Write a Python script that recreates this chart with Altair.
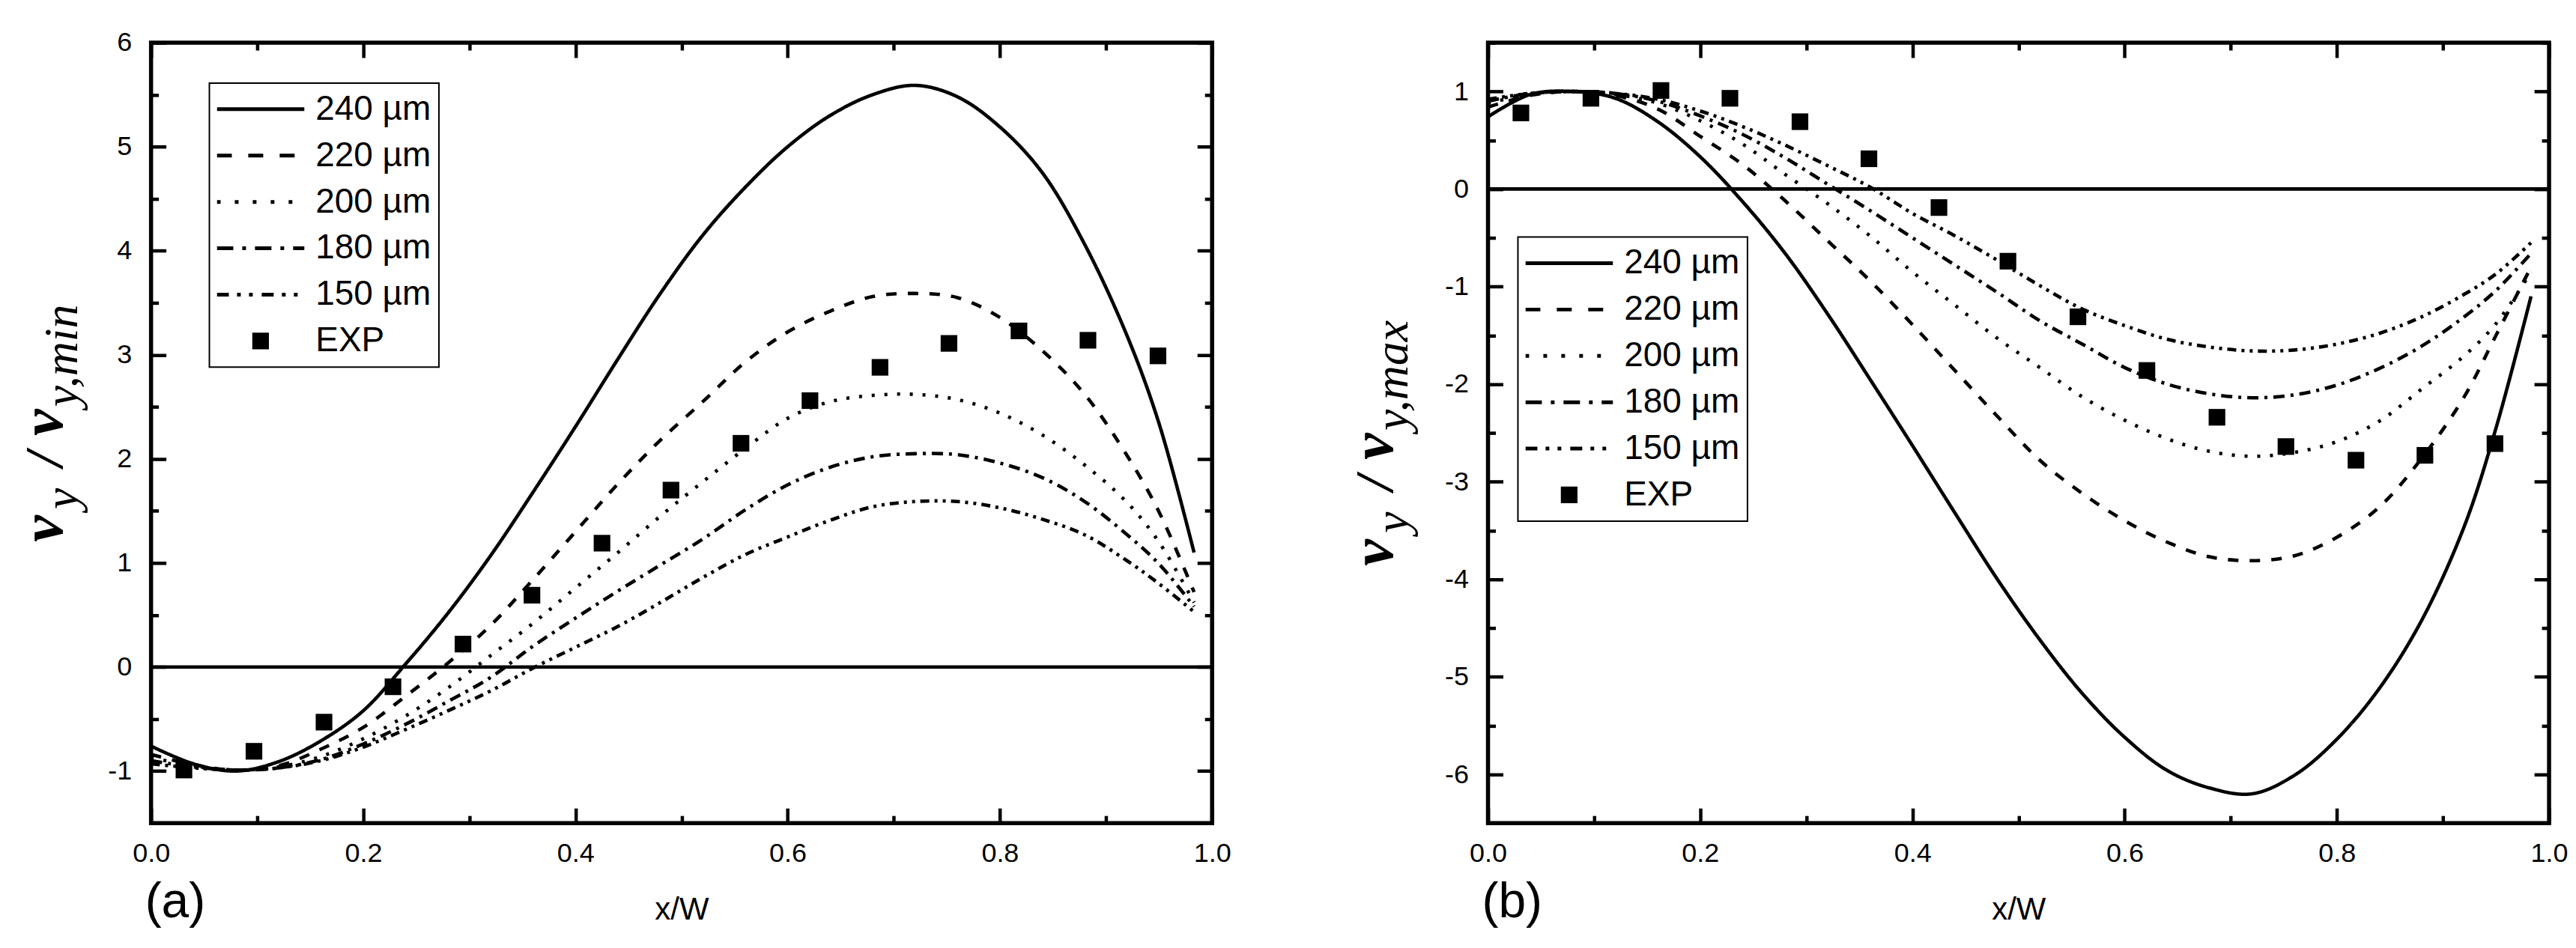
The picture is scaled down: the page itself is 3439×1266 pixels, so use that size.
import altair as alt
import pandas as pd

# ---------------- data ----------------
SERIES = ["240 µm", "220 µm", "200 µm", "180 µm", "150 µm", "EXP"]

X_GRID = [0.0, 0.04, 0.08, 0.12, 0.16, 0.20, 0.24, 0.28, 0.32, 0.36, 0.40, 0.44, 0.48,
          0.52, 0.56, 0.60, 0.64, 0.68, 0.72, 0.76, 0.80, 0.84, 0.88, 0.92, 0.95, 0.983]

# panel (a): v_y / v_y,min
A_240 = [-0.76, -0.93, -1.00, -0.91, -0.71, -0.42, 0.03, 0.52, 1.07, 1.68, 2.31, 2.96, 3.59,
         4.15, 4.61, 5.00, 5.30, 5.50, 5.59, 5.48, 5.19, 4.75, 4.06, 3.18, 2.34, 1.10]
A_220 = [-0.84, -0.94, -0.99, -0.95, -0.79, -0.58, -0.28, 0.04, 0.40, 0.84, 1.30, 1.76, 2.18,
         2.55, 2.93, 3.22, 3.42, 3.56, 3.59, 3.55, 3.36, 3.04, 2.62, 2.03, 1.49, 0.72]
A_200 = [-0.87, -0.95, -0.99, -0.96, -0.86, -0.69, -0.47, -0.20, 0.11, 0.42, 0.76, 1.10, 1.45,
         1.78, 2.10, 2.39, 2.55, 2.61, 2.62, 2.57, 2.44, 2.23, 1.94, 1.58, 1.20, 0.62]
A_180 = [-0.90, -0.96, -0.99, -0.97, -0.89, -0.74, -0.55, -0.33, -0.10, 0.20, 0.47, 0.73, 0.98,
         1.23, 1.51, 1.75, 1.92, 2.02, 2.05, 2.04, 1.96, 1.82, 1.59, 1.27, 0.99, 0.58]
A_150 = [-0.93, -0.97, -0.99, -0.97, -0.90, -0.77, -0.60, -0.42, -0.23, -0.01, 0.19, 0.39, 0.62,
         0.86, 1.08, 1.25, 1.41, 1.54, 1.59, 1.59, 1.53, 1.42, 1.27, 1.02, 0.80, 0.53]

# panel (b): v_y / v_y,max
B_240 = [0.74, 0.97, 1.00, 0.93, 0.69, 0.33, -0.13, -0.66, -1.28, -1.95, -2.63, -3.32, -4.00,
         -4.62, -5.17, -5.62, -5.96, -6.14, -6.20, -6.01, -5.64, -5.12, -4.42, -3.46, -2.45, -1.10]
B_220 = [0.84, 0.96, 1.00, 0.96, 0.82, 0.54, 0.25, -0.12, -0.53, -0.94, -1.39, -1.86, -2.33,
         -2.78, -3.12, -3.40, -3.62, -3.77, -3.81, -3.76, -3.57, -3.26, -2.76, -2.13, -1.50, -0.80]
B_200 = [0.88, 0.97, 1.00, 0.97, 0.88, 0.70, 0.46, 0.15, -0.15, -0.48, -0.85, -1.19, -1.53,
         -1.83, -2.13, -2.37, -2.56, -2.69, -2.74, -2.70, -2.59, -2.38, -2.05, -1.71, -1.38, -0.85]
B_180 = [0.90, 0.98, 1.00, 0.98, 0.90, 0.75, 0.56, 0.32, 0.05, -0.22, -0.50, -0.78, -1.06,
         -1.35, -1.59, -1.83, -2.00, -2.10, -2.14, -2.11, -2.01, -1.84, -1.61, -1.31, -1.04, -0.66]
B_150 = [0.92, 0.98, 1.00, 0.98, 0.92, 0.80, 0.64, 0.45, 0.24, 0.02, -0.25, -0.48, -0.73,
         -0.99, -1.23, -1.40, -1.54, -1.62, -1.66, -1.65, -1.59, -1.48, -1.31, -1.08, -0.87, -0.55]

EXP_X = [0.031, 0.097, 0.163, 0.228, 0.294, 0.359, 0.425, 0.490, 0.556, 0.621, 0.687, 0.752,
         0.818, 0.883, 0.949]
A_EXP = [-0.99, -0.81, -0.53, -0.19, 0.22, 0.69, 1.19, 1.70, 2.15, 2.56, 2.88, 3.11, 3.23, 3.14, 2.99]
B_EXP = [0.78, 0.93, 1.01, 0.93, 0.69, 0.31, -0.19, -0.74, -1.31, -1.86, -2.34, -2.64, -2.78, -2.73, -2.61]

X_MAJOR = [0.0, 0.2, 0.4, 0.6, 0.8, 1.0]
X_MINOR = [0.1, 0.3, 0.5, 0.7, 0.9]
A_Y_DOMAIN = [-1.5, 6]
A_Y_MAJOR = [-1, 0, 1, 2, 3, 4, 5, 6]
A_Y_MINOR = [-1.5, -0.5, 0.5, 1.5, 2.5, 3.5, 4.5, 5.5]
B_Y_DOMAIN = [-6.5, 1.5]
B_Y_MAJOR = [-6, -5, -4, -3, -2, -1, 0, 1]
B_Y_MINOR = [-6.5, -5.5, -4.5, -3.5, -2.5, -1.5, -0.5, 0.5, 1.5]
ZERO = [0]

# ---------------- styles ----------------
LEGEND_DASHES = [[1, 0], [20, 22], [5, 19], [22, 12, 5, 12], [16, 11, 5, 11, 5, 12]]
PLOT_DASHES = [[1, 0], [14, 15], [4, 13], [15, 8, 4, 8], [12, 7, 4, 7, 4, 7]]
FONT = "Liberation Sans, Arial, sans-serif"
SERIF = "Liberation Serif, Times New Roman, serif"
W, H = 1419, 1044
SYM_LEN = 117.0                 # legend line sample length in px
SYM = int(SYM_LEN ** 2)
LW = 4.6
TW = 4.5
MINUS_FIX = "replace(datum.label, '\u2212', '-')"


def dash_path(pattern, length=SYM_LEN, half=2.5):
    """Legend sample: a dash pattern drawn as filled bars in the [-1, 1] symbol box."""
    r = length / 2.0
    t = half / r
    if sum(pattern[1::2]) == 0:
        segs = [(0.0, length)]
    else:
        segs, pos, i = [], 0.0, 0
        while pos < length:
            end = min(pos + pattern[i % len(pattern)], length)
            if i % 2 == 0:
                segs.append((pos, end))
            pos, i = end, i + 1
    return "".join(f"M{a / r - 1:.4f},{-t:.4f}H{b / r - 1:.4f}V{t:.4f}H{a / r - 1:.4f}Z"
                   for a, b in segs)


SQUARE = "M-0.19,-0.19H0.19V0.19H-0.19Z"
SHAPES = [dash_path(d) for d in LEGEND_DASHES] + [SQUARE]


def tick_axis(orient, values, size, offset):
    # axis drawn only for inward-pointing ticks on one edge of the frame
    return alt.Axis(orient=orient, values=values, tickSize=size, tickWidth=TW,
                    tickColor="black", domain=False, grid=False, labels=False,
                    title=None, offset=offset)


def long_df(curves):
    rows = []
    for name, ys in zip(SERIES[:5], curves):
        for x, y in zip(X_GRID, ys):
            rows.append({"x": x, "y": y, "series": name})
    return pd.DataFrame(rows)


def title_piece(text, x, y, size, bold):
    return alt.Chart(pd.DataFrame({"k": [0]})).mark_text(
        text=text, angle=270, align="left", baseline="alphabetic", font=SERIF,
        fontSize=size, fontStyle="italic", fontWeight="bold" if bold else "normal",
        color="black").encode(x=alt.value(x), y=alt.value(y))


def panel(curves, exp_y, y_dom, y_major, y_minor, letter, sub, leg_xy, tx, ty, ext):
    line_df = long_df(curves)
    exp_df = pd.DataFrame({"x": EXP_X, "y": exp_y, "series": ["EXP"] * len(EXP_X)})
    xs = alt.Scale(domain=[0, 1], nice=False, zero=False)
    ys = alt.Scale(domain=y_dom, nice=False, zero=False)
    dash_scale = alt.Scale(domain=SERIES[:5], range=PLOT_DASHES)
    shape_scale = alt.Scale(domain=SERIES, range=SHAPES)
    leg = alt.Legend(title=None, orient="none", legendX=leg_xy[0], legendY=leg_xy[1],
                     direction="vertical", labelFont=FONT, labelFontSize=46, labelColor="black",
                     labelOffset=15, labelLimit=0, symbolSize=SYM, symbolStrokeWidth=0,
                     symbolFillColor="black", rowPadding=12, clipHeight=50, padding=10,
                     strokeColor="black", fillColor="white", symbolOffset=0)

    ax_xb = alt.Axis(orient="bottom", values=X_MAJOR, ticks=False, domain=False, grid=False,
                     format=".1f", labelFont=FONT, labelFontSize=36, labelColor="black",
                     labelPadding=23, labelFlush=False, labelOverlap=False,
                     title="x/W", titleFont=FONT, titleFontSize=42, titleFontWeight="normal",
                     titleColor="black", titleY=116, titleBaseline="middle")
    ax_yl = alt.Axis(orient="left", values=y_major, ticks=False, domain=False, grid=False,
                     format="d", labelFont=FONT, labelFontSize=36, labelColor="black",
                     labelPadding=26, labelFlush=False, labelOverlap=False,
                     labelExpr=MINUS_FIX, title=None)

    # invisible frame that fixes the panel's outer extent for the layout
    extent = alt.Chart(pd.DataFrame({"k": [0]})).mark_rule(opacity=0).encode(
        x=alt.value(ext[0]), x2=alt.value(ext[1]), y=alt.value(-30), y2=alt.value(H + 150))
    zero = alt.Chart(pd.DataFrame({"z": ZERO})).mark_rule(color="black", strokeWidth=4.6).encode(
        y=alt.Y("z:Q", scale=ys, axis=None))
    lines = alt.Chart(line_df).mark_line(color="black", strokeWidth=LW,
                                         interpolate="catmull-rom").encode(
        x=alt.X("x:Q", scale=xs, axis=ax_xb),
        y=alt.Y("y:Q", scale=ys, axis=ax_yl),
        strokeDash=alt.StrokeDash("series:N", scale=dash_scale, legend=None))
    pts = alt.Chart(exp_df).mark_point(filled=True, color="black", size=SYM, opacity=1).encode(
        x=alt.X("x:Q", scale=xs, axis=tick_axis("top", X_MAJOR, 20, -H)),
        y=alt.Y("y:Q", scale=ys, axis=tick_axis("right", y_major, 20, -W)),
        shape=alt.Shape("series:N", scale=shape_scale, legend=leg))
    d1 = alt.Chart(exp_df).mark_point(opacity=0).encode(
        x=alt.X("x:Q", scale=xs, axis=tick_axis("top", X_MINOR, 10, -H)),
        y=alt.Y("y:Q", scale=ys, axis=tick_axis("right", y_minor, 10, -W)))
    d2 = alt.Chart(exp_df).mark_point(opacity=0).encode(
        x=alt.X("x:Q", scale=xs, axis=tick_axis("bottom", X_MAJOR, 20, -H)),
        y=alt.Y("y:Q", scale=ys, axis=tick_axis("left", y_major, 20, -W)))
    d3 = alt.Chart(exp_df).mark_point(opacity=0).encode(
        x=alt.X("x:Q", scale=xs, axis=tick_axis("bottom", X_MINOR, 10, -H)),
        y=alt.Y("y:Q", scale=ys, axis=tick_axis("left", y_minor, 10, -W)))

    tag = alt.Chart(pd.DataFrame({"k": [0]})).mark_text(
        text=letter, align="left", baseline="middle", font=FONT, fontSize=66,
        color="black").encode(x=alt.value(-8), y=alt.value(1150))

    t1 = title_piece("v", tx, ty, 80, True)
    t2 = title_piece("y", tx + 20, ty - 44, 64, False)
    t3 = title_piece("/", tx, ty - 101, 72, True)
    t4 = title_piece("v", tx, ty - 142, 80, True)
    t5 = title_piece("y," + sub, tx + 20, ty - 181, 64, False)

    return alt.layer(extent, zero, lines, pts, d1, d2, d3, tag, t1, t2, t3, t4, t5).resolve_axis(
        x="independent", y="independent").properties(width=W, height=H)


pa = panel([A_240, A_220, A_200, A_180, A_150], A_EXP, A_Y_DOMAIN, A_Y_MAJOR, A_Y_MINOR,
           "(a)", "min", (78, 54), -119, 668, (-190, W + 40))
pb = panel([B_240, B_220, B_200, B_180, B_150], B_EXP, B_Y_DOMAIN, B_Y_MAJOR, B_Y_MINOR,
           "(b)", "max", (40, 260), -128, 700, (-200, W))

chart = alt.hconcat(pa, pb, spacing=123).resolve_scale(
    strokeDash="independent", shape="independent").resolve_legend(
    shape="independent").properties(
    padding={"left": 1, "top": 15, "right": 0, "bottom": 0}).configure_view(
    stroke="black", strokeWidth=5.5).configure_legend(strokeWidth=2)

chart.save("out.html", embed_options={"renderer": "svg", "actions": False})
